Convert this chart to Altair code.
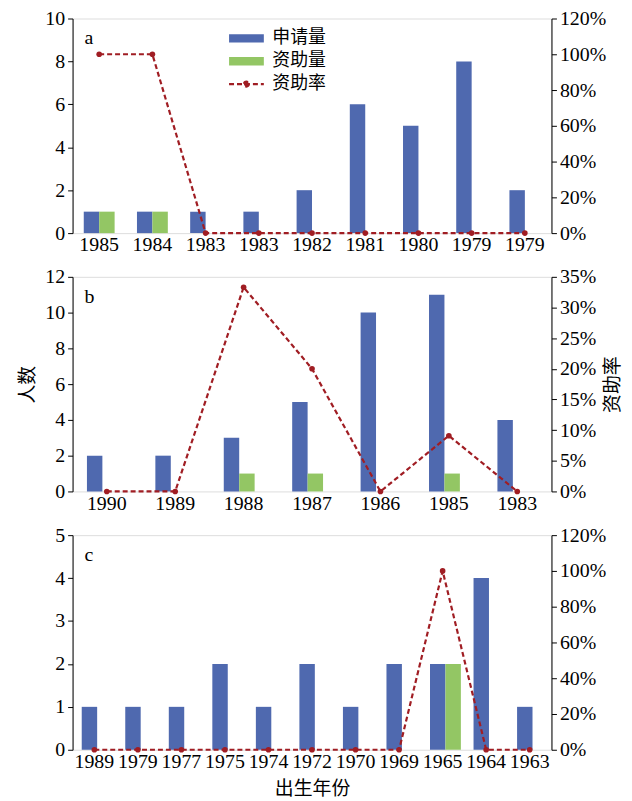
import altair as alt
import pandas as pd

# ---------------- data ----------------
SERIES = ["申请量", "资助量"]
RATE_NAME = "资助率"

A_CATS = ["1985", "1984", "1983", "1983", "1982", "1981", "1980", "1979", "1979"]
A_APPLY = [1, 1, 1, 1, 2, 6, 5, 8, 2]
A_FUND = [1, 1, 0, 0, 0, 0, 0, 0, 0]
A_RATE = [1.0, 1.0, 0, 0, 0, 0, 0, 0, 0]

B_CATS = ["1990", "1989", "1988", "1987", "1986", "1985", "1983"]
B_APPLY = [2, 2, 3, 5, 10, 11, 4]
B_FUND = [0, 0, 1, 1, 0, 1, 0]
B_RATE = [0, 0, 0.333, 0.20, 0, 0.0909, 0]

C_CATS = ["1989", "1979", "1977", "1975", "1974", "1972", "1970", "1969", "1965", "1964", "1963"]
C_APPLY = [1, 1, 1, 2, 1, 2, 1, 2, 2, 4, 1]
C_FUND = [0, 0, 0, 0, 0, 0, 0, 0, 2, 0, 0]
C_RATE = [0, 0, 0, 0, 0, 0, 0, 0, 1.0, 0, 0]

BLUE = "#4F69AF"
GREEN = "#93C664"
RED = "#A01D23"
FONT = "Liberation Serif, Noto Sans CJK SC"
CJK = "Noto Sans CJK SC"

W, H = 482, 216


def panel(cats, apply_, fund, rate, ymax, ystep, rmax, rstep, letter,
          show_legend=False, ytitle=None, rtitle=None, xtitle=None):
    n = len(cats)
    bars = pd.DataFrame({
        "idx": list(range(n)) * 2,
        "series": [SERIES[0]] * n + [SERIES[1]] * n,
        "value": list(apply_) + list(fund),
    })
    line = pd.DataFrame({"idx": list(range(n)), "rate": rate, "name": [RATE_NAME] * n})
    label_arr = "[" + ",".join("'%s'" % c for c in cats) + "]"

    xaxis = dict(labelExpr=label_arr + "[datum.value]", ticks=False, domain=False,
                 labelAngle=0, labelOverlap=False, labelPadding=2,
                 labelFontSize=20, labelFont=FONT, labelColor="black")
    if xtitle:
        xaxis.update(title=xtitle, titleFont=CJK, titleFontSize=19,
                     titleFontWeight="normal", titlePadding=8, titleColor="black")
    else:
        xaxis.update(title=None)

    yaxis = dict(values=list(range(0, ymax + 1, ystep)), grid=False, tickSize=5,
                 labelOverlap=False, labelFontSize=20, labelFont=FONT, labelColor="black",
                 domainColor="black", tickColor="black", labelPadding=3)
    if ytitle:
        yaxis.update(title=ytitle, titleFont=CJK, titleFontSize=19,
                     titleFontWeight="normal", titlePadding=7, titleColor="black")
    else:
        yaxis.update(title=None)

    rvals = [round(i * rstep, 4) for i in range(int(round(rmax / rstep)) + 1)]
    raxis = dict(orient="right", values=rvals, format=".0%", grid=False, tickSize=5,
                 labelOverlap=False, labelFontSize=20, labelFont=FONT, labelColor="black",
                 domainColor="black", tickColor="black", labelPadding=3)
    if rtitle:
        raxis.update(title=rtitle, titleFont=CJK, titleFontSize=19, titleAngle=270,
                     titleBaseline="top", titleFontWeight="normal", titlePadding=8,
                     titleColor="black")
    else:
        raxis.update(title=None)

    if show_legend:
        color_legend = alt.Legend(orient="none", legendX=166, legendY=11, title=None,
                                  symbolType="M-3.5,-0.85H3.5V0.85H-3.5Z", symbolSize=100,
                                  symbolStrokeWidth=0, symbolOpacity=1,
                                  labelFont=CJK, labelFontSize=18, labelColor="black",
                                  labelOffset=17, rowPadding=5)
        dash_legend = alt.Legend(orient="none", legendX=166, legendY=57, title=None,
                                 symbolType="M-3.5,0H3.5M0.5,0A0.5,0.5,0,1,1,-0.5,0A0.5,0.5,0,1,1,0.5,0",
                                 symbolSize=100, symbolStrokeColor=RED, symbolFillColor=RED,
                                 symbolStrokeWidth=2.2, symbolOpacity=1,
                                 labelFont=CJK, labelFontSize=18, labelColor="black",
                                 labelOffset=17)
    else:
        color_legend = None
        dash_legend = None

    x = alt.X("idx:O", scale=alt.Scale(paddingInner=0.42, paddingOuter=0.21), axis=alt.Axis(**xaxis))

    bar = alt.Chart(bars).mark_bar().encode(
        x=x,
        xOffset=alt.XOffset("series:N", sort=SERIES, scale=alt.Scale(domain=SERIES)),
        y=alt.Y("value:Q", scale=alt.Scale(domain=[0, ymax], nice=False), axis=alt.Axis(**yaxis)),
        color=alt.Color("series:N", scale=alt.Scale(domain=SERIES, range=[BLUE, GREEN]),
                        legend=color_legend),
    )

    rscale = alt.Scale(domain=[0, rmax], nice=False)
    ln = alt.Chart(line).mark_line(color=RED, strokeWidth=2.2).encode(
        x=alt.X("idx:O"),
        y=alt.Y("rate:Q", scale=rscale, axis=alt.Axis(**raxis)),
        strokeDash=alt.StrokeDash("name:N", scale=alt.Scale(domain=[RATE_NAME], range=[[5, 3]]),
                                  legend=dash_legend),
    )
    pts = alt.Chart(line).mark_circle(color=RED, size=32, opacity=1).encode(
        x=alt.X("idx:O"),
        y=alt.Y("rate:Q", scale=rscale, axis=alt.Axis(**raxis)),
    )
    rate_layer = alt.layer(ln, pts)

    txt = alt.Chart(pd.DataFrame({"t": [letter]})).mark_text(
        font=FONT, fontSize=20, align="left", baseline="middle", color="black"
    ).encode(text="t:N", x=alt.value(12), y=alt.value(20))

    return alt.layer(bar, rate_layer, txt).resolve_scale(y="independent").properties(width=W, height=H)


pa = panel(A_CATS, A_APPLY, A_FUND, A_RATE, 10, 2, 1.2, 0.2, "a", show_legend=True)
pb = panel(B_CATS, B_APPLY, B_FUND, B_RATE, 12, 2, 0.35, 0.05, "b", ytitle="人数", rtitle="资助率")
pc = panel(C_CATS, C_APPLY, C_FUND, C_RATE, 5, 1, 1.2, 0.2, "c", xtitle="出生年份")

chart = alt.vconcat(pa, pb, pc, spacing=10).resolve_scale(
    color="independent", strokeDash="independent"
).properties(
    padding={"left": 10, "top": -3, "right": 0, "bottom": 0}
).configure_view(
    stroke="black", strokeWidth=1
).configure(background="white")

chart.save("out.html", embed_options={"renderer": "svg", "actions": False})
